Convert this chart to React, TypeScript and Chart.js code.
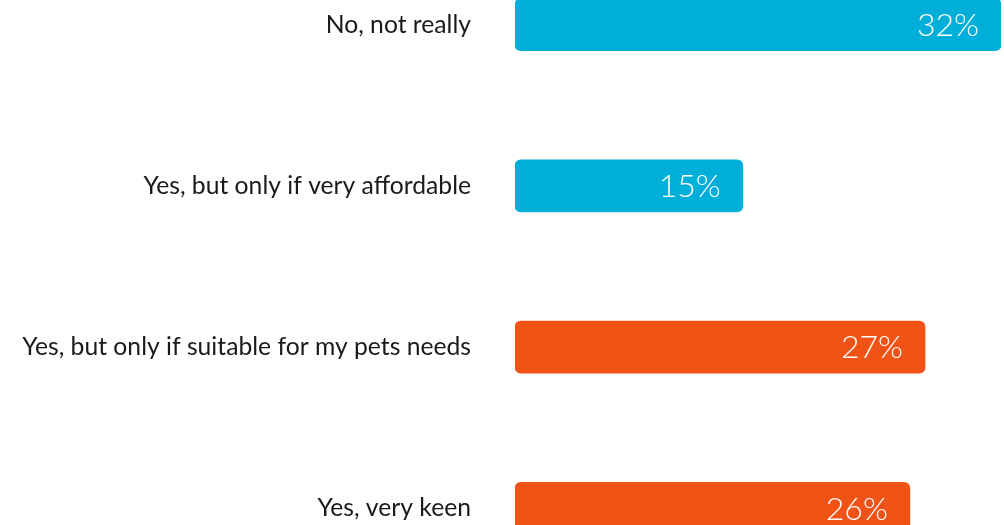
import React, { useEffect, useRef } from "react";
import { Chart, registerables } from "chart.js";

Chart.register(...registerables);

const categories = [
  "No, not really",
  "Yes, but only if very affordable",
  "Yes, but only if suitable for my pets needs",
  "Yes, very keen",
];
const values = [32, 15, 27, 26];
const barColors = ["#00AFD9", "#00AFD9", "#F15215", "#F15215"];

const FONT = "Lato, 'Noto Sans', sans-serif";

const valueLabelPlugin = {
  id: "valueLabels",
  afterDatasetsDraw(chart: any) {
    const ctx = chart.ctx;
    const meta = chart.getDatasetMeta(0);
    ctx.save();
    ctx.fillStyle = "#ffffff";
    ctx.font = `300 32px ${FONT}`;
    ctx.textAlign = "right";
    ctx.textBaseline = "middle";
    meta.data.forEach((bar: any, i: number) => {
      ctx.fillText(`${values[i]}%`, bar.x - 22, bar.y + 1);
    });
    ctx.restore();
  },
};

export default function App() {
  const canvasRef = useRef<HTMLCanvasElement | null>(null);

  useEffect(() => {
    document.body.style.margin = "0";
    document.body.style.overflow = "hidden";
    const chart = new Chart(canvasRef.current as HTMLCanvasElement, {
      type: "bar",
      data: {
        labels: categories,
        datasets: [
          {
            data: values,
            backgroundColor: barColors,
            borderRadius: 6,
            borderSkipped: false,
            barThickness: 52,
          },
        ],
      },
      options: {
        indexAxis: "y",
        animation: false,
        responsive: false,
        maintainAspectRatio: false,
        layout: { padding: { left: 0, right: 3, top: 0, bottom: 0 } },
        plugins: {
          legend: { display: false },
          tooltip: { enabled: false },
        },
        scales: {
          x: {
            display: false,
            min: 0,
            max: 32,
          },
          y: {
            border: { display: false },
            grid: { display: false, drawTicks: false },
            ticks: {
              color: "#1a1a1a",
              font: { family: FONT, size: 24.7 },
              padding: 44,
            },
            afterFit(scale: any) {
              scale.width = 515;
              scale.paddingTop = 0;
              scale.paddingBottom = 0;
            },
          },
        },
      },
      plugins: [valueLabelPlugin],
    });
    return () => chart.destroy();
  }, []);

  return (
    <div
      style={{
        position: "fixed",
        top: 0,
        left: 0,
        width: 1004,
        height: 525,
        overflow: "hidden",
        background: "#ffffff",
      }}
    >
      <canvas
        ref={canvasRef}
        width={1004}
        height={645}
        style={{ position: "absolute", top: -56, left: 0, width: 1004, height: 645, display: "block" }}
      />
    </div>
  );
}
